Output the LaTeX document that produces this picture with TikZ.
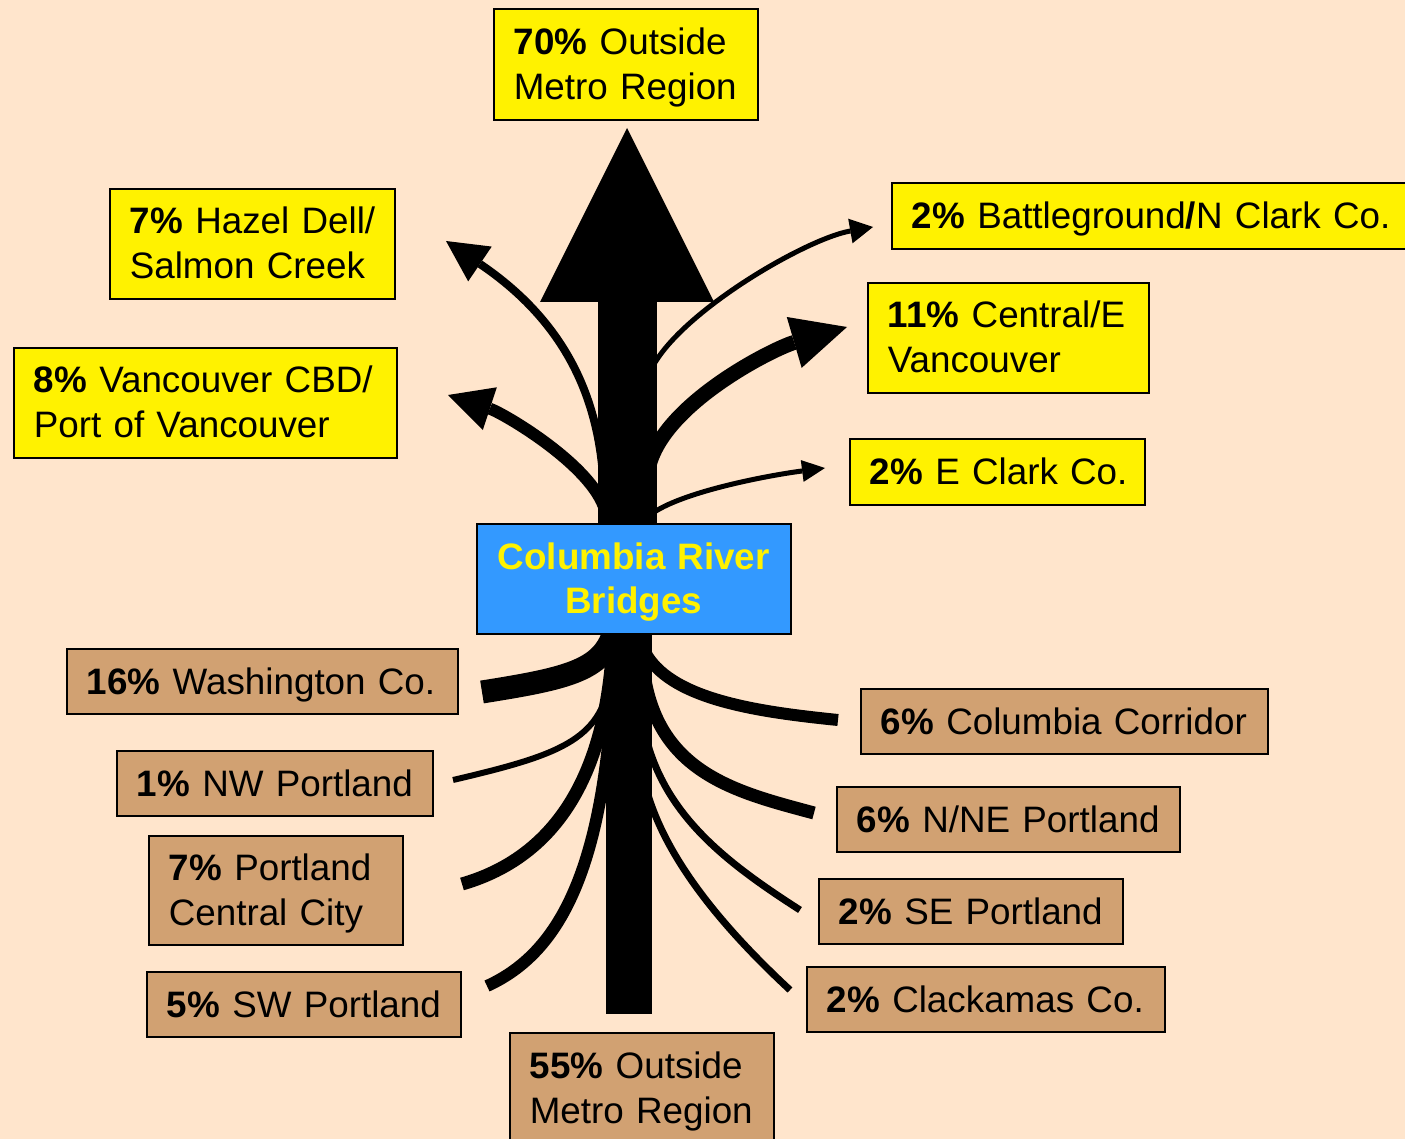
\documentclass[tikz,border=0pt]{standalone}
\usepackage{fontspec}
\setmainfont{Liberation Sans}
\usetikzlibrary{arrows.meta}
\definecolor{bgpeach}{RGB}{255,229,204}
\definecolor{tanfill}{RGB}{209,161,114}
\definecolor{bridgeblue}{RGB}{51,153,255}
\pgfdeclarelayer{bglayer}
\pgfdeclarelayer{flowlayer}
\pgfsetlayers{bglayer,flowlayer,main}
\newcommand\tstrut{\rule{0pt}{17.5pt}}
\newcommand\bstrut{\rule[-4.8pt]{0pt}{4.8pt}}
\begin{document}
\begin{tikzpicture}[x=0.5pt,y=-0.5pt,
  box/.style={draw=black, line width=0.8pt, anchor=north west, align=left,
    inner xsep=10pt, inner ysep=0pt, font=\fontsize{18.4}{22.5}\selectfont},
  ybox/.style={box, fill=yellow},
  tbox/.style={box, fill=tanfill},
  bridgebox/.style={box, fill=bridgeblue, align=center, text=yellow,
    font=\fontsize{18.4}{22.5}\selectfont\bfseries},
  stream/.style={line width=#1, line cap=butt}
]
\useasboundingbox (0,0) rectangle (1405,1139);
\begin{pgfonlayer}{bglayer}
\fill[bgpeach] (0,0) rectangle (1405,1139);
\end{pgfonlayer}

% boxes
\node[ybox, text width=112pt, minimum height=55.5pt] (out70) at (493,8) {\mbox{\tstrut\textbf{70\%} Outside}\\\mbox{Metro Region\bstrut}};
\node[ybox, text width=122.5pt, minimum height=55pt] (hazel) at (109,188) {\mbox{\tstrut\textbf{7\%} Hazel Dell/}\\\mbox{Salmon Creek\bstrut}};
\node[ybox, text width=171.5pt, minimum height=55pt] (vcbd) at (13,347) {\mbox{\tstrut\textbf{8\%} Vancouver CBD/}\\\mbox{Port of Vancouver\bstrut}};
\node[ybox, text width=245pt, minimum height=33pt] (battle) at (891,182) {\mbox{\tstrut\textbf{2\%} Battleground\textbf{/}N Clark Co.\bstrut}};
\node[ybox, text width=120.5pt, minimum height=55pt] (central) at (867,282) {\mbox{\tstrut\textbf{11\%} Central/E}\\\mbox{Vancouver\bstrut}};
\node[ybox, text width=127.5pt, minimum height=33pt] (eclark) at (849,438) {\mbox{\tstrut\textbf{2\%} E Clark Co.\bstrut}};
\node[bridgebox, text width=137pt, minimum height=55pt] (bridges) at (476,523) {\tstrut Columbia River\\Bridges\bstrut};
\node[tbox, text width=175.5pt, minimum height=32.5pt] (wash) at (66,648) {\mbox{\tstrut\textbf{16\%} Washington Co.\bstrut}};
\node[tbox, text width=138pt, minimum height=32.5pt] (nw) at (116,750) {\mbox{\tstrut\textbf{1\%} NW Portland\bstrut}};
\node[tbox, text width=107pt, minimum height=54.5pt] (pcc) at (148,835) {\mbox{\tstrut\textbf{7\%} Portland}\\\mbox{Central City\bstrut}};
\node[tbox, text width=137pt, minimum height=32.5pt] (sw) at (146,971) {\mbox{\tstrut\textbf{5\%} SW Portland\bstrut}};
\node[tbox, text width=112pt, minimum height=55pt] (out55) at (509,1032) {\mbox{\tstrut\textbf{55\%} Outside}\\\mbox{Metro Region\bstrut}};
\node[tbox, text width=183.5pt, minimum height=32.5pt] (colcorr) at (860,688) {\mbox{\tstrut\textbf{6\%} Columbia Corridor\bstrut}};
\node[tbox, text width=151.5pt, minimum height=32.5pt] (nne) at (836,786) {\mbox{\tstrut\textbf{6\%} N/NE Portland\bstrut}};
\node[tbox, text width=132pt, minimum height=32.5pt] (se) at (818,878) {\mbox{\tstrut\textbf{2\%} SE Portland\bstrut}};
\node[tbox, text width=159pt, minimum height=32.5pt] (clack) at (806,966) {\mbox{\tstrut\textbf{2\%} Clackamas Co.\bstrut}};

\coordinate (toptip) at (627,128);
\coordinate (trunkend) at (629,1014);

\begin{pgfonlayer}{flowlayer}
% main northbound arrow
\draw[stream=29.5pt, -{Triangle[length=87pt,width=87pt,line width=0pt]}] (bridges.north -| toptip) -- (toptip);
% southbound trunk
\draw[stream=23pt] (bridges.south -| trunkend) -- (trunkend);
% northern branches
\draw[stream=4pt, -{Triangle[length=20.5pt,width=21pt,line width=0pt]}] (604,500) .. controls (603,400) and (565,321.5) .. (446,241);
\draw[stream=6pt, -{Triangle[length=22pt,width=22.5pt,line width=0pt]}] (605,510) .. controls (592,465) and (503,413) .. (448,395);
\draw[stream=2.5pt, -{Triangle[length=11.5pt,width=12.5pt,line width=0pt]}] (650,372) .. controls (675,315) and (805,239) .. (873,227);
\draw[stream=7.5pt, -{Triangle[length=27.5pt,width=26.5pt,line width=0pt]}] (648,470) .. controls (660,405) and (773.5,348.5) .. (847,327);
\draw[stream=2.5pt, -{Triangle[length=11.5pt,width=11pt,line width=0pt]}] (650,515) .. controls (680,492) and (767.5,475.5) .. (825,468);
% southern branches
\draw[stream=11.5pt] (615,628) .. controls (605,670) and (570,678) .. (482,692);
\draw[stream=3pt] (610,680) .. controls (600,740) and (560,755) .. (453,780);
\draw[stream=6.5pt] (613,640) .. controls (606,790) and (545,860) .. (462,884);
\draw[stream=6pt] (612,700) .. controls (600,880) and (555,955) .. (487,986);
\draw[stream=6pt] (644,650) .. controls (668,700) and (760,712) .. (838,720);
\draw[stream=6.5pt] (645,680) .. controls (662,775) and (740,793) .. (814,813);
\draw[stream=3.5pt] (648,745) .. controls (670,820) and (730,865) .. (800,910);
\draw[stream=3.5pt] (648,795) .. controls (668,860) and (720,925) .. (790,990);
\end{pgfonlayer}
\end{tikzpicture}
\end{document}
